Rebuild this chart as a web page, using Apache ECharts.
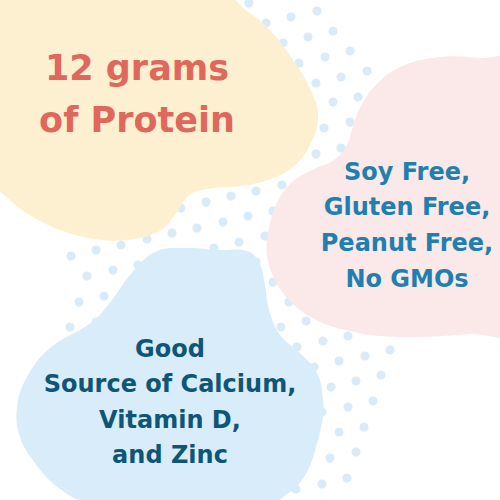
<!DOCTYPE html>
<html><head><meta charset="utf-8">
<script src="https://cdn.jsdelivr.net/npm/echarts@6/dist/echarts.min.js"></script>
<style>html,body{margin:0;padding:0;background:#fff}#c{width:500px;height:500px}</style>
</head><body><div id="c"></div>
<script>
// Dot pattern (light blue dots), rows of the lattice
const dotsRows = [
  [[224,9],[249,3],[275,-3]],
  [[215,34],[241,29],[266,23],[291,17],[317,11]],
  [[182,66],[207,60],[232,54],[257,48],[283,43],[308,37],[333,31]],
  [[173,91],[198,85],[224,80],[249,74],[274,68],[299,63],[325,57],[350,51]],
  [[164,117],[190,111],[215,105],[240,100],[266,94],[291,88],[316,83],[341,77],[367,71]],
  [[156,142],[181,137],[206,131],[232,125],[257,120],[282,114],[308,108],[333,102],[358,97],[383,91]],
  [[147,168],[172,162],[198,157],[223,151],[248,145],[274,139],[299,134],[324,128],[350,122]],
  [[139,194],[164,188],[189,182],[214,176],[240,171],[265,165],[290,159],[316,154],[341,148]],
  [[130,219],[155,213],[181,208],[206,202],[231,196],[256,191],[282,185],[307,179]],
  [[71,256],[96,250],[121,245],[147,239],[172,233],[197,228],[223,222],[248,216],[273,211]],
  [[87,276],[113,270],[138,265],[163,259],[189,253],[214,248],[239,242],[265,236]],
  [[79,302],[104,296],[129,290],[155,285],[180,279],[205,273],[231,267],[256,262]],
  [[70,327],[96,322],[121,316],[146,310],[172,304],[197,299],[222,293],[247,287],[273,282]],
  [[87,347],[112,341],[138,336],[163,330],[188,324],[213,319],[239,313],[264,307],[289,302]],
  [[79,373],[104,367],[129,361],[155,356],[180,350],[205,344],[230,339],[255,333],[281,327],[306,321],[331,316]],
  [[70,398],[95,393],[120,387],[146,381],[171,376],[196,370],[222,364],[247,359],[272,353],[297,347],[323,341],[348,336],[373,330]],
  [[61,424],[87,418],[112,413],[137,407],[162,401],[188,396],[213,390],[238,384],[264,378],[289,373],[314,367],[339,361],[365,356],[390,350]],
  [[103,438],[128,433],[154,427],[179,421],[204,416],[230,410],[255,404],[280,398],[306,393],[331,387],[356,381],[381,375]],
  [[120,458],[145,452],[170,447],[196,441],[221,435],[246,430],[272,424],[297,418],[322,412],[348,407],[373,401]],
  [[111,484],[137,478],[162,472],[187,467],[212,461],[238,455],[263,449],[288,444],[314,438],[339,432],[364,427]],
  [[153,498],[179,492],[204,486],[229,481],[254,475],[280,469],[305,464],[330,458],[356,452]],
  [[246,501],[271,495],[296,489],[322,484],[347,478]],
  [[338,503]]
];
const dots = [].concat(...dotsRows);

// Blob outlines
const yellowBlob = [[-20,-20],[233,-20],[236,0],[267,27],[293,60],[312,93],[318,117],[311,143],[294,166],[268,180],[240,186],[207,189],[188,196],[175,215],[158,232],[125,240],[95,239],[60,230],[25,212],[0,192],[-20,180]];
const pinkBlob = [[440,57],[480,58],[520,62],[520,330],[470,334],[420,337],[380,336],[350,331],[318,321],[292,303],[275,280],[267,255],[269,228],[277,203],[291,183],[312,170],[334,160],[347,145],[353,126],[361,106],[375,86],[400,67]];
const blueBlob = [[155,252],[185,248],[220,250],[247,251],[259,262],[265,285],[269,310],[280,335],[300,353],[317,373],[323,400],[322,422],[316,447],[309,468],[297,486],[282,498],[265,512],[150,512],[85,502],[55,485],[35,463],[20,437],[17,407],[27,377],[50,348],[92,322],[112,300],[130,275]];
const blobs = [yellowBlob, pinkBlob, blueBlob];
const blobColors = ['#fdf0d0', '#fbe8e9', '#d8edf9'];

// Texts
const proteinLines = ['12 grams', 'of Protein'];
const freeLines = ['Soy Free,', 'Gluten Free,', 'Peanut Free,', 'No GMOs'];
const sourceLines = ['Good', 'Source of Calcium,', 'Vitamin D,', 'and Zinc'];

const FONT = '"DejaVu Sans", sans-serif';
function textEls(lines, cx, ys, size, color) {
  return lines.map((t, k) => ({
    type: 'text', z: 100,
    style: { text: t, x: cx, y: ys[k], textAlign: 'center', textVerticalAlign: 'middle',
      fontFamily: FONT, fontWeight: 'bold', fontSize: size, fill: color }
  }));
}

const chart = echarts.init(document.getElementById('c'), null, { renderer: 'svg' });
chart.setOption({
  animation: false,
  backgroundColor: '#ffffff',
  grid: { left: 0, right: 0, top: 0, bottom: 0 },
  xAxis: { type: 'value', min: 0, max: 500, show: false },
  yAxis: { type: 'value', min: 0, max: 500, inverse: true, show: false },
  series: [
    {
      type: 'scatter', z: 1, symbolSize: 9, data: dots, silent: true,
      itemStyle: { color: '#cfe6f6' }
    },
    {
      type: 'custom', z: 2, clip: false, silent: true,
      data: blobs.map((b, k) => [k, 0]),
      renderItem: function (params, api) {
        const k = api.value(0);
        const pts = blobs[k].map(p => api.coord(p));
        return { type: 'polygon', shape: { points: pts, smooth: 0.4 }, style: { fill: blobColors[k] } };
      }
    }
  ],
  graphic: [].concat(
    textEls(proteinLines, 137, [68, 120], 35, '#e0675b'),
    textEls(freeLines, 407, [172, 207, 243, 279], 24, '#1f7fae'),
    textEls(sourceLines, 170, [349, 384, 420, 455], 24, '#0e5577')
  )
});
</script></body></html>
